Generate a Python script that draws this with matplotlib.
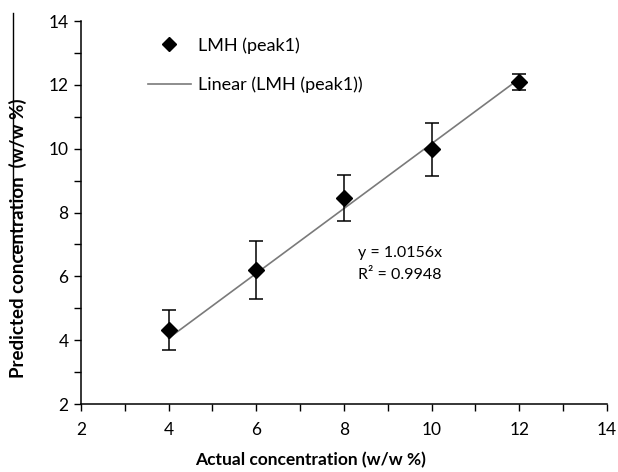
import matplotlib
matplotlib.use("Agg")
import matplotlib.pyplot as plt
from matplotlib.lines import Line2D

# Calibration data
actual = [4, 6, 8, 10, 12]
predicted = [4.32, 6.20, 8.45, 9.98, 12.10]
errors = [0.63, 0.92, 0.73, 0.83, 0.25]
slope = 1.0156
r_squared = 0.9948
ticks = [2, 4, 6, 8, 10, 12, 14]

plt.rcParams['font.family'] = ['Lato', 'DejaVu Sans']

fig = plt.figure(figsize=(6.18, 4.72), dpi=100)
ax = fig.add_axes([0.131, 0.144, 0.851, 0.8115])

ax.errorbar(actual, predicted, yerr=errors, fmt='D', color='black',
            markersize=8, ecolor='black', elinewidth=1.1, capsize=5,
            capthick=1.1, zorder=3)
fit_x = [min(actual), max(actual)]
fit_y = [slope * v for v in fit_x]
ax.plot(fit_x, fit_y, color='#7a7a7a', linewidth=1.2, zorder=2)

ax.set_xlim(2, 14)
ax.set_ylim(2, 14)
ax.set_xticks(ticks)
ax.set_yticks(ticks)
ax.set_xticks([3, 5, 7, 9, 11, 13], minor=True)
ax.set_yticks([3, 5, 7, 9, 11, 13], minor=True)
ax.tick_params(which='both', direction='out', length=5, width=1, labelsize=12.5,
               colors='black')
ax.tick_params(axis='x', pad=8)
ax.tick_params(axis='y', pad=4)

for side in ('top', 'right'):
    ax.spines[side].set_visible(False)
for side in ('left', 'bottom'):
    ax.spines[side].set_linewidth(1.1)

ax.set_xlabel('Actual concentration (w/w %)', fontsize=12.5, fontweight='bold')
ax.set_ylabel('Predicted concentration  (w/w %)', fontsize=13.5, fontweight='bold')
ax.xaxis.set_label_coords(0.437, -0.125)
ax.yaxis.set_label_coords(-0.103, 0.433)

ax.text(8.32, 6.73, f'y = {slope}x', fontsize=11.5, ha='left', va='center')
ax.text(8.32, 6.04, f'R² = {r_squared}', fontsize=11.5, ha='left', va='center')

handles = [
    Line2D([], [], marker='D', color='black', linestyle='none', markersize=7),
    Line2D([], [], color='#7a7a7a', linewidth=1.2),
]
ax.legend(handles, ['LMH (peak1)', 'Linear (LMH (peak1))'], frameon=False,
          fontsize=13, loc='upper left', bbox_to_anchor=(0.096, 1.0),
          handlelength=2.4, handletextpad=0.4, labelspacing=1.25)

# thin rule at the far left edge
fig.add_artist(Line2D([0.021, 0.021], [1 - 13 / 472, 1 - 258 / 472],
                      color='black', linewidth=1))

fig.savefig('out.png', dpi=100)
